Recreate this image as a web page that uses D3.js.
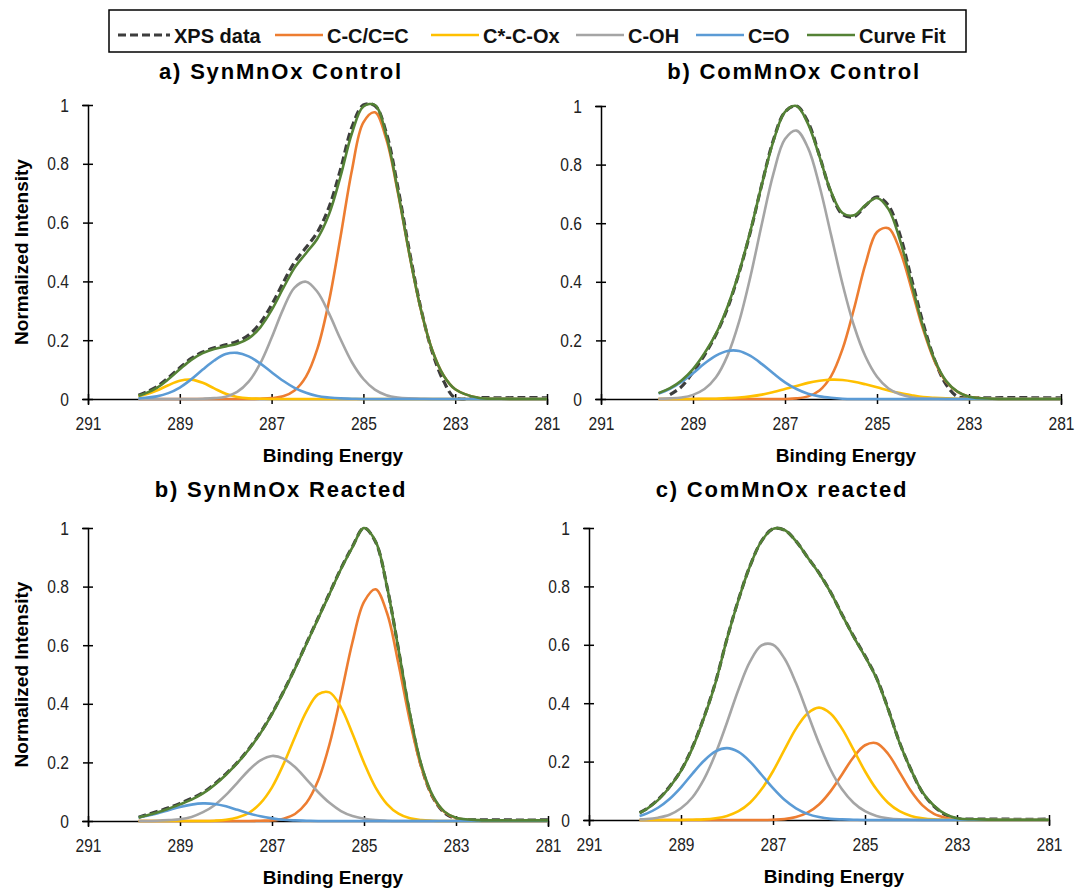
<!DOCTYPE html>
<meta charset="utf-8">
<title>C 1s XPS curve fits</title>
<style>
  body { margin: 0; background: #fff; }
  svg { display: block; font-family: "Liberation Sans", Arial, sans-serif; }
  .axis .tick text { font-family: "Liberation Sans", Arial, sans-serif; font-size: 19px; fill: #222; }
  .axis path, .axis line { stroke: #000; stroke-width: 1.5px; }
  .ptitle { font-size: 22px; font-weight: bold; letter-spacing: 1.8px; fill: #000; }
  .atitle { font-size: 19px; font-weight: bold; fill: #000; }
  .legend text { font-size: 20px; font-weight: bold; fill: #111; }
</style>
<body>
<svg id="chart" width="1076" height="892"></svg>
<script src="https://cdn.jsdelivr.net/npm/d3@7"></script>
<script>
// binding energy grid (eV), shared by the four panels
const energy = [289.9, 289.75, 289.5, 289.25, 289, 288.75, 288.5, 288.25, 288, 287.75, 287.5, 287.25,
  287, 286.75, 286.5, 286.25, 286, 285.75, 285.5, 285.25, 285, 284.75, 284.5, 284.25, 284,
  283.75, 283.5, 283.25, 283, 282.5, 282, 281.5, 281];

const seriesNames = ["XPS data", "C-C/C=C", "C*-C-Ox", "C-OH", "C=O", "Curve Fit"];
const seriesColors = ["#3d3d3d", "#ED7D31", "#FFC000", "#A5A5A5", "#5B9BD5", "#548235"];

const xTicks = [291, 289, 287, 285, 283, 281];
const yTicks = [0, 0.2, 0.4, 0.6, 0.8, 1];

// a) SynMnOx Control
const synCtrlXps = [.013, .022, .042, .072, .106, .138, .16, .174, .184, .196, .218, .258, .32, .395, .465, .515, .568, .652, .78, .925, 1.0, .998, .905, .72, .505, .31, .16, .06, .004, .005, .004, .005, .004];
const synCtrlCC  = [0, 0, 0, 0, 0, 0, 0, 0, 0, 0, 0, .001, .003, .009, .029, .076, .172, .332, .55, .778, .941, .975, .883, .703, .493, .305, .166, .079, .033, .004, .001, 0, 0];
const synCtrlOx  = [.009, .015, .029, .047, .062, .066, .055, .036, .018, .007, .002, .001, 0, 0, 0, 0, 0, 0, 0, 0, 0, 0, 0, 0, 0, 0, 0, 0, 0, 0, 0, 0, 0];
const synCtrlOH  = [0, 0, 0, 0, 0, 0, .001, .003, .008, .024, .059, .12, .208, .305, .379, .399, .364, .291, .204, .125, .068, .032, .013, .005, .002, .001, 0, 0, 0, 0, 0, 0, 0];
const synCtrlCO  = [.002, .004, .009, .02, .039, .067, .1, .131, .153, .157, .145, .121, .091, .062, .038, .021, .01, .005, .002, .001, 0, 0, 0, 0, 0, 0, 0, 0, 0, 0, 0, 0, 0];
const synCtrlFit = [.011, .019, .038, .067, .101, .133, .156, .17, .179, .188, .206, .243, .302, .376, .446, .496, .546, .628, .756, .904, .995, 1.0, .896, .708, .495, .306, .166, .079, .033, .004, .001, 0, 0];

// b) ComMnOx Control
const comCtrlXps = [null, null, .015, .042, .092, .15, .22, .31, .43, .572, .735, .885, .98, 1.0, .945, .83, .705, .63, .622, .66, .69, .66, .56, .41, .26, .135, .05, .008, .004, .004, .005, .004, .004];
const comCtrlCC  = [null, 0, 0, 0, 0, 0, 0, 0, 0, 0, 0, 0, 0, .002, .009, .029, .077, .17, .308, .461, .57, .583, .506, .376, .239, .13, .06, .024, .008, .001, 0, 0, 0];
const comCtrlOx  = [null, 0, 0, 0, 0, .001, .001, .003, .005, .009, .015, .024, .034, .044, .055, .062, .066, .065, .059, .05, .04, .029, .02, .013, .007, .004, .002, .001, 0, 0, 0, 0, 0];
const comCtrlOH  = [null, .001, .002, .005, .014, .034, .074, .148, .263, .419, .6, .77, .887, .916, .857, .727, .561, .393, .25, .145, .076, .036, .016, .006, .002, .001, 0, 0, 0, 0, 0, 0, 0];
const comCtrlCO  = [null, .019, .035, .058, .088, .121, .148, .164, .164, .147, .119, .087, .057, .034, .018, .009, .004, .001, 0, 0, 0, 0, 0, 0, 0, 0, 0, 0, 0, 0, 0, 0, 0];
const comCtrlFit = [null, .02, .037, .063, .102, .156, .223, .315, .432, .575, .734, .881, .98, 1.0, .939, .827, .708, .635, .627, .662, .686, .648, .542, .395, .248, .135, .062, .025, .008, .001, 0, 0, 0];

// b) SynMnOx Reacted
const synReacXps = [.013, .02, .032, .045, .06, .077, .097, .126, .161, .2, .247, .302, .367, .442, .522, .607, .692, .777, .862, .937, 1.0, .953, .8, .585, .36, .185, .08, .028, .008, .004, .004, .003, .004];
const synReacCC  = [0, 0, 0, 0, 0, 0, 0, 0, 0, 0, 0, .001, .002, .008, .024, .062, .137, .262, .43, .611, .748, .791, .71, .536, .34, .181, .081, .031, .01, .001, 0, 0, 0];
const synReacOx  = [0, 0, 0, 0, 0, 0, 0, .001, .004, .012, .028, .061, .115, .194, .287, .374, .432, .439, .388, .298, .199, .115, .058, .025, .009, .003, .001, 0, 0, 0, 0, 0, 0];
const synReacOH  = [0, 0, .001, .003, .006, .014, .03, .054, .089, .131, .174, .207, .222, .213, .184, .142, .099, .062, .034, .017, .008, .003, .001, 0, 0, 0, 0, 0, 0, 0, 0, 0, 0];
const synReacCO  = [.012, .017, .026, .037, .048, .056, .06, .058, .05, .038, .026, .016, .009, .004, .002, .001, 0, 0, 0, 0, 0, 0, 0, 0, 0, 0, 0, 0, 0, 0, 0, 0, 0];
const synReacFit = [.012, .018, .029, .042, .057, .073, .094, .123, .158, .198, .245, .3, .365, .44, .52, .605, .69, .775, .86, .935, 1.0, .955, .8, .585, .365, .19, .085, .032, .011, .003, .002, .002, .002];

// c) ComMnOx reacted
const comReacXps = [.025, .038, .07, .114, .17, .25, .352, .472, .621, .755, .87, .955, .997, .993, .955, .9, .846, .781, .704, .63, .562, .487, .382, .266, .172, .094, .047, .018, .005, .003, .003, .002, .003];
const comReacCC  = [0, 0, 0, 0, 0, 0, 0, 0, 0, 0, 0, 0, .001, .003, .01, .025, .053, .098, .156, .215, .256, .263, .227, .164, .099, .05, .021, .008, .002, 0, 0, 0, 0];
const comReacOx  = [0, 0, 0, 0, 0, .001, .002, .006, .014, .03, .059, .105, .167, .241, .313, .365, .385, .365, .313, .241, .167, .105, .059, .03, .014, .006, .002, .001, 0, 0, 0, 0, 0];
const comReacOH  = [.002, .003, .008, .018, .04, .078, .14, .227, .334, .447, .542, .598, .6, .553, .469, .366, .263, .173, .105, .059, .03, .014, .006, .002, .001, 0, 0, 0, 0, 0, 0, 0, 0];
const comReacCO  = [.014, .022, .042, .072, .112, .159, .203, .235, .246, .233, .2, .155, .109, .069, .04, .021, .01, .004, .002, .001, 0, 0, 0, 0, 0, 0, 0, 0, 0, 0, 0, 0, 0];
const comReacFit = [.024, .037, .068, .112, .168, .247, .35, .47, .62, .754, .87, .955, .997, .993, .955, .9, .845, .78, .703, .628, .56, .485, .38, .265, .172, .095, .049, .02, .006, .002, .001, .001, .001];

const panels = [
  { title: "a) SynMnOx Control", series: [synCtrlXps, synCtrlCC, synCtrlOx, synCtrlOH, synCtrlCO, synCtrlFit] },
  { title: "b) ComMnOx Control", series: [comCtrlXps, comCtrlCC, comCtrlOx, comCtrlOH, comCtrlCO, comCtrlFit] },
  { title: "b) SynMnOx Reacted", series: [synReacXps, synReacCC, synReacOx, synReacOH, synReacCO, synReacFit] },
  { title: "c) ComMnOx reacted", series: [comReacXps, comReacCC, comReacOx, comReacOH, comReacCO, comReacFit] }
];

// pixel boxes of the four plot areas
const boxes = [
  { left: 88, right: 547, top: 105, bottom: 399, titleY: 79, yTitle: true },
  { left: 601, right: 1061, top: 106, bottom: 399, titleY: 79, yTitle: false },
  { left: 88, right: 548, top: 528, bottom: 821, titleY: 497, yTitle: true },
  { left: 589, right: 1049, top: 528, bottom: 820, titleY: 497, yTitle: false }
];

const narrow = 0.82; // tick labels are set in a condensed face

const svg = d3.select("#chart");
svg.append("rect").attr("width", 1076).attr("height", 892).attr("fill", "#fff");

panels.forEach(function (p, i) {
  const b = boxes[i];
  const x = d3.scaleLinear().domain([291, 281]).range([b.left, b.right]);
  const y = d3.scaleLinear().domain([0, 1]).range([b.bottom, b.top]);
  const g = svg.append("g");

  // axes, ticks crossing the line
  const gx = g.append("g").attr("class", "axis")
    .attr("transform", "translate(0," + b.bottom + ")")
    .call(d3.axisBottom(x).tickValues(xTicks).tickSizeOuter(0).tickSize(6).tickPadding(12));
  gx.selectAll(".tick line").attr("y1", -5).attr("y2", 5);
  gx.selectAll(".tick text").attr("transform", "scale(" + narrow + ",1)");

  const gy = g.append("g").attr("class", "axis")
    .attr("transform", "translate(" + b.left + ",0)")
    .call(d3.axisLeft(y).tickValues(yTicks).tickFormat(d => String(d)).tickSizeOuter(0).tickSize(6).tickPadding(13));
  gy.selectAll(".tick line").attr("x1", -5).attr("x2", 5);
  gy.selectAll(".tick text").attr("x", -19 / narrow).attr("transform", "scale(" + narrow + ",1)");

  // curves
  const line = d3.line()
    .defined(d => d[1] != null)
    .x(d => x(d[0]))
    .y(d => y(d[1]))
    .curve(d3.curveCatmullRom.alpha(0.5));

  p.series.forEach(function (vals, k) {
    const pts = energy.map((e, j) => [e, vals[j]]);
    const path = g.append("path")
      .attr("d", line(pts))
      .attr("fill", "none")
      .attr("stroke", seriesColors[k])
      .attr("stroke-width", k === 0 ? 3.2 : 2.6)
      .attr("stroke-linejoin", "round");
    if (k === 0) path.attr("stroke-dasharray", "8,4");
  });

  // titles
  g.append("text").attr("class", "ptitle")
    .attr("x", b.left + 193).attr("y", b.titleY)
    .attr("text-anchor", "middle").text(p.title);

  g.append("text").attr("class", "atitle")
    .attr("x", b.left + 245).attr("y", b.bottom + 63)
    .attr("text-anchor", "middle").text("Binding Energy");

  if (b.yTitle) {
    g.append("text").attr("class", "atitle")
      .attr("transform", "translate(28," + ((b.top + b.bottom) / 2) + ") rotate(-90)")
      .attr("text-anchor", "middle").text("Normalized Intensity");
  }
});

// legend
const legendX = [118, 275, 431, 576, 696, 807];
const lg = svg.append("g").attr("class", "legend");
lg.append("rect").attr("x", 109).attr("y", 10).attr("width", 857).attr("height", 42)
  .attr("fill", "#fff").attr("stroke", "#000").attr("stroke-width", 1.5);
seriesNames.forEach(function (name, k) {
  const lx = legendX[k];
  const w = k === 0 ? 52 : 48;
  const ln = lg.append("line")
    .attr("x1", lx).attr("x2", lx + w).attr("y1", 35).attr("y2", 35)
    .attr("stroke", seriesColors[k]).attr("stroke-width", k === 0 ? 3.2 : 2.6);
  if (k === 0) ln.attr("stroke-dasharray", "8,4");
  lg.append("text").attr("x", lx + w + 4).attr("y", 43).text(name);
});
</script>
</body>
